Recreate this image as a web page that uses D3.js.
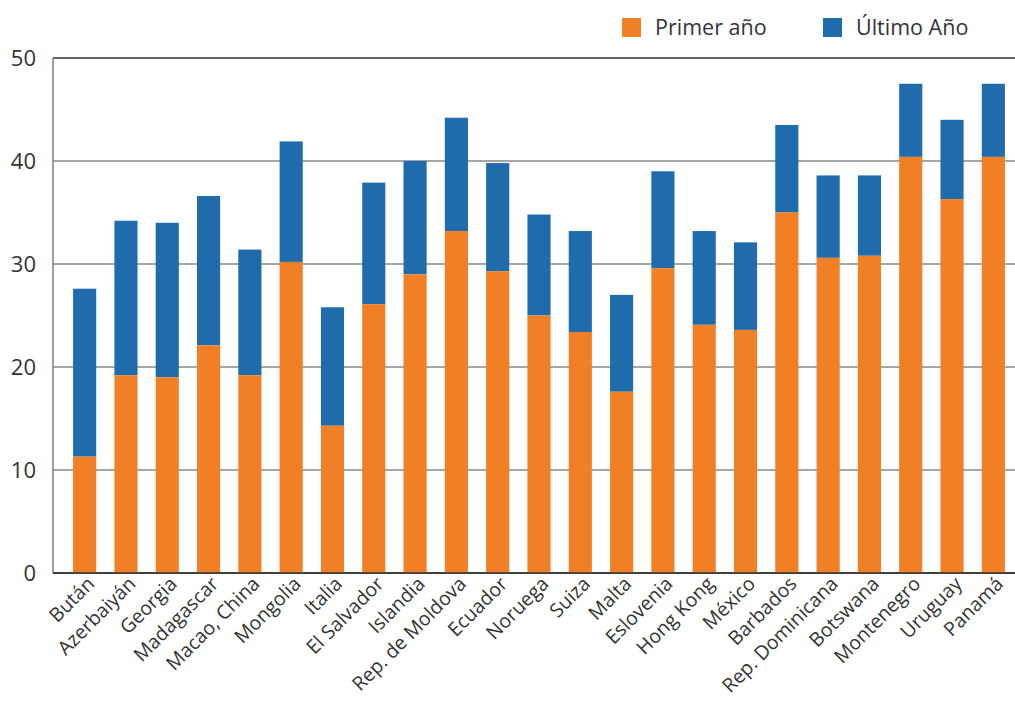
<!DOCTYPE html>
<html>
<head>
<meta charset="utf-8">
<script src="https://cdn.jsdelivr.net/npm/d3@7"></script>
<style>
  body { margin: 0; background: #fff; }
  text { font-family: "Open Sans", sans-serif; fill: #333; }
</style>
</head>
<body>
<script>
// datos
var paises = ['Bután', 'Azerbaiyán', 'Georgia', 'Madagascar', 'Macao, China', 'Mongolia',
  'Italia', 'El Salvador', 'Islandia', 'Rep. de Moldova', 'Ecuador', 'Noruega', 'Suiza',
  'Malta', 'Eslovenia', 'Hong Kong', 'México', 'Barbados', 'Rep. Dominicana', 'Botswana',
  'Montenegro', 'Uruguay', 'Panamá'];

var primerAnio = [11.3, 19.2, 19.0, 22.1, 19.2, 30.2, 14.3, 26.1, 29.0, 33.2, 29.3, 25.0,
  23.4, 17.6, 29.6, 24.1, 23.6, 35.0, 30.6, 30.8, 40.4, 36.3, 40.4];

var ultimoAnio = [27.6, 34.2, 34.0, 36.6, 31.4, 41.9, 25.8, 37.9, 40.0, 44.2, 39.8, 34.8,
  33.2, 27.0, 39.0, 33.2, 32.1, 43.5, 38.6, 38.6, 47.5, 44.0, 47.5];

var yTicks = [0, 10, 20, 30, 40, 50];

var series = ['Primer año', 'Último Año'];
var colores = ['#f07f26', '#1f6bac'];

var width = 1015, height = 705;
var plotLeft = 53, plotTop = 58, plotBottom = 573;

var svg = d3.select('body')
  .append('svg')
  .attr('width', width)
  .attr('height', height);

var x = d3.scaleBand()
  .domain(paises)
  .range([64, 1014])
  .paddingInner(0.44)
  .paddingOuter(0.22);

var y = d3.scaleLinear()
  .domain([0, 50])
  .range([plotBottom, plotTop]);

// rejilla
svg.append('g')
  .selectAll('line')
  .data(yTicks)
  .enter()
    .append('line')
      .attr('x1', plotLeft)
      .attr('x2', width)
      .attr('y1', function(d){ return y(d); })
      .attr('y2', function(d){ return y(d); })
      .attr('stroke', function(d){ return (d === 0 || d === 50) ? '#333' : '#888'; })
      .attr('stroke-width', function(d){ return (d === 0 || d === 50) ? 1.3 : 1.6; });

// barras
var filas = paises.map(function(p, i){
  return { pais: p, primer: primerAnio[i], ultimo: ultimoAnio[i] };
});

var g = svg.append('g');

g.selectAll('rect.ultimo')
  .data(filas)
  .enter()
    .append('rect')
      .attr('class', 'ultimo')
      .attr('x', function(d){ return x(d.pais); })
      .attr('width', x.bandwidth())
      .attr('y', function(d){ return y(d.ultimo); })
      .attr('height', function(d){ return y(d.primer) - y(d.ultimo); })
      .attr('fill', colores[1]);

g.selectAll('rect.primer')
  .data(filas)
  .enter()
    .append('rect')
      .attr('class', 'primer')
      .attr('x', function(d){ return x(d.pais); })
      .attr('width', x.bandwidth())
      .attr('y', function(d){ return y(d.primer); })
      .attr('height', function(d){ return y(0) - y(d.primer); })
      .attr('fill', colores[0]);

// ejes
svg.append('line')
  .attr('x1', plotLeft).attr('x2', plotLeft)
  .attr('y1', plotTop).attr('y2', plotBottom)
  .attr('stroke', '#888')
  .attr('stroke-width', 1.6);

svg.append('line')
  .attr('x1', plotLeft).attr('x2', width)
  .attr('y1', plotBottom).attr('y2', plotBottom)
  .attr('stroke', '#333')
  .attr('stroke-width', 1.3);

svg.append('g')
  .selectAll('text')
  .data(yTicks)
  .enter()
    .append('text')
      .attr('x', 36)
      .attr('y', function(d){ return y(d) + 8; })
      .attr('text-anchor', 'end')
      .style('font-size', '22px')
      .text(function(d){ return d; });

svg.append('g')
  .selectAll('text')
  .data(paises)
  .enter()
    .append('text')
      .attr('text-anchor', 'end')
      .style('font-size', '19.5px')
      .attr('transform', function(d){
        return 'translate(' + (x(d) + x.bandwidth() / 2 + 11) + ',585) rotate(-45)';
      })
      .text(function(d){ return d; });

// leyenda
var leyenda = svg.append('g')
  .selectAll('g')
  .data(series)
  .enter()
    .append('g')
      .attr('transform', function(d, i){
        return 'translate(' + (622 + i * 201) + ',18)';
      });

leyenda.append('rect')
  .attr('width', 19)
  .attr('height', 19)
  .attr('fill', function(d, i){ return colores[i]; });

leyenda.append('text')
  .attr('x', 33)
  .attr('y', 17)
  .style('font-size', '21.5px')
  .text(function(d){ return d; });
</script>
</body>
</html>
